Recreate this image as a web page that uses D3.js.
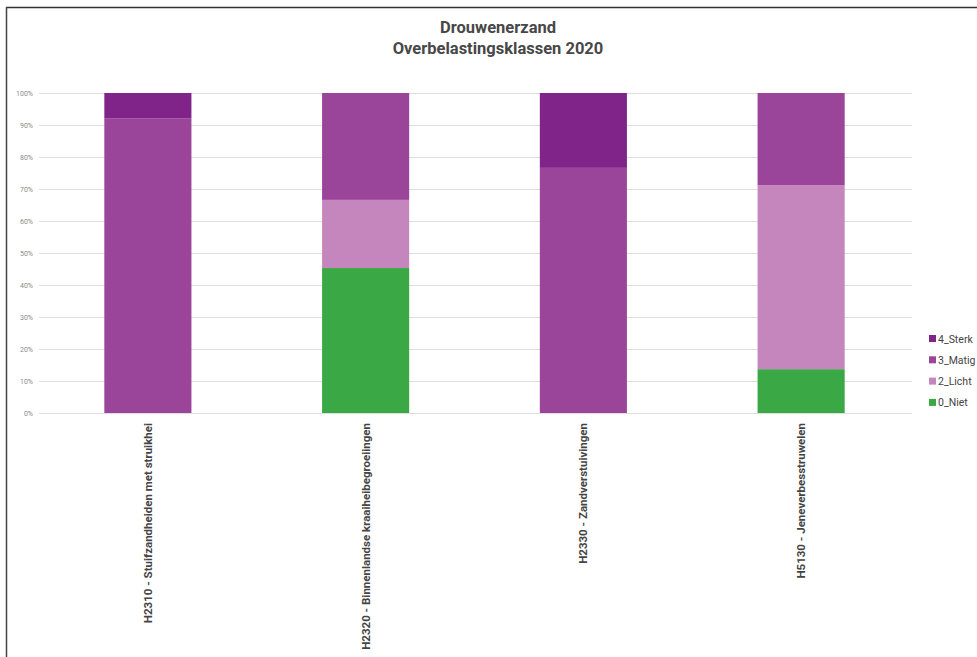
<!DOCTYPE html>
<html><head><meta charset="utf-8">
<script src="https://cdn.jsdelivr.net/npm/d3@7"></script>
<style>body{margin:0;background:#fff;} svg{display:block;}</style>
</head><body>
<svg id="c" width="977" height="657"></svg>
<script>
const categories = ["H2310 - Stuifzandheiden met struikhei","H2320 - Binnenlandse kraaiheibegroeiingen","H2330 - Zandverstuivingen","H5130 - Jeneverbesstruwelen"];
const seriesNames = ["0_Niet","2_Licht","3_Matig","4_Sterk"];
const niet  = [0, 45.3, 0, 13.7];
const licht = [0, 21.3, 0, 57.5];
const matig = [92, 33.4, 76.6, 28.8];
const sterk = [8, 0, 23.4, 0];
const colors = ["#3aa845","#c585bd","#9a4599","#80248a"];
const yTicks = [0,10,20,30,40,50,60,70,80,90,100];
const titleLines = ["Drouwenerzand","Overbelastingsklassen 2020"];

(function(){
const svg = d3.select("#c");
const rows = categories.map((c,i)=>({cat:c,"0_Niet":niet[i],"2_Licht":licht[i],"3_Matig":matig[i],"4_Sterk":sterk[i]}));
const stack = d3.stack().keys(seriesNames)(rows);

const pLeft=39, pRight=910, pTop=93, pBottom=413;
const x = d3.scaleBand().domain(categories).range([pLeft,pRight]).paddingInner(0.6).paddingOuter(0.3);
const y = d3.scaleLinear().domain([0,100]).range([pBottom,pTop]);

// frame
svg.append("line").attr("x1",6).attr("x2",977).attr("y1",7.5).attr("y2",7.5).attr("stroke","#333").attr("stroke-width",1.5);
svg.append("line").attr("x1",6.5).attr("x2",6.5).attr("y1",7).attr("y2",657).attr("stroke","#444").attr("stroke-width",1.5);

// title
svg.append("g").selectAll("text").data(titleLines).join("text")
  .attr("x",498).attr("y",(d,i)=>33+i*21).attr("text-anchor","middle")
  .attr("font-family","Roboto, sans-serif").attr("font-weight","bold").attr("font-size",16.5)
  .attr("fill","#474747").text(d=>d);

// gridlines
svg.append("g").selectAll("line").data(yTicks).join("line")
  .attr("x1",pLeft).attr("x2",912).attr("y1",d=>y(d)+0.5).attr("y2",d=>y(d)+0.5)
  .attr("stroke","#dedede").attr("stroke-width",1);

// y labels
svg.append("g").selectAll("text").data(yTicks).join("text")
  .attr("x",33).attr("y",d=>y(d)+2.5).attr("text-anchor","end")
  .attr("font-family","Roboto, sans-serif").attr("font-size",7).attr("fill","#8a8a8a")
  .text(d=>d+"%");

// bars
svg.append("g").selectAll("g").data(stack).join("g")
  .attr("fill",(d,i)=>colors[i])
  .selectAll("rect").data(d=>d).join("rect")
  .attr("x",d=>x(d.data.cat)).attr("width",x.bandwidth())
  .attr("y",d=>y(d[1])).attr("height",d=>Math.max(0,y(d[0])-y(d[1])));

// x labels
svg.append("g").selectAll("text").data(categories).join("text")
  .attr("transform",d=>`translate(${x(d)+x.bandwidth()/2+4},423) rotate(-90)`)
  .attr("text-anchor","end")
  .attr("font-family","Roboto, sans-serif").attr("font-weight","bold").attr("font-size",11.5)
  .attr("fill","#444").text(d=>d);

// legend
const legendOrder = ["4_Sterk","3_Matig","2_Licht","0_Niet"];
const lg = svg.append("g").selectAll("g").data(legendOrder).join("g")
  .attr("transform",(d,i)=>`translate(929,${339+i*21.3})`);
lg.append("rect").attr("x",0).attr("y",-4).attr("width",7).attr("height",7)
  .attr("fill",d=>colors[seriesNames.indexOf(d)]);
lg.append("text").attr("x",9).attr("y",3.5)
  .attr("font-family","Roboto, sans-serif").attr("font-size",10.5).attr("fill","#444").text(d=>d);
})();
</script>
</body></html>
